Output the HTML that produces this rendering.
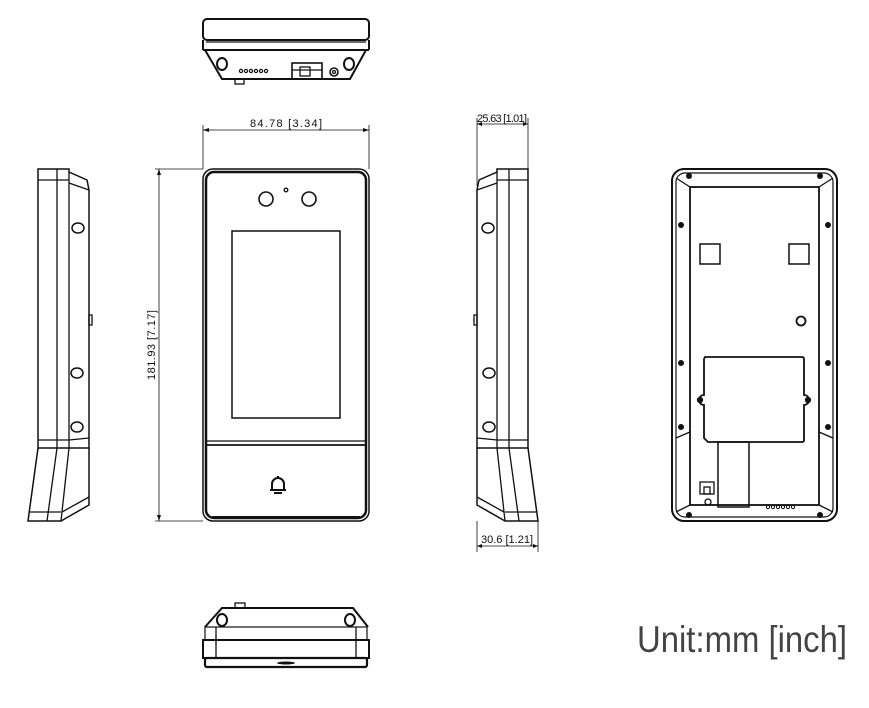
<!DOCTYPE html>
<html><head><meta charset="utf-8"><style>html,body{margin:0;padding:0;background:#fff}svg{display:block}</style></head><body>
<svg width="869" height="708" viewBox="0 0 869 708" xmlns="http://www.w3.org/2000/svg" fill="none" stroke="#111" stroke-width="1.3">
<!-- TOP VIEW -->
<g>
<rect x="203" y="19" width="166" height="21" rx="4" stroke-width="2"/>
<line x1="203" y1="40" x2="203" y2="50" stroke-width="2"/><line x1="369" y1="40" x2="369" y2="50" stroke-width="2"/>
<line x1="203" y1="50" x2="369" y2="50" stroke-width="2"/>
<line x1="206" y1="42" x2="366" y2="42"/>
<path d="M205 50 L222 79 L350 79 L366 50" stroke-width="2"/>
<ellipse cx="222" cy="64" rx="5" ry="6" stroke-width="2"/><ellipse cx="349" cy="64" rx="5" ry="6" stroke-width="2"/>
<g stroke-width="1.2"><circle cx="241" cy="71" r="1.6"/><circle cx="246" cy="71" r="1.6"/><circle cx="251" cy="71" r="1.6"/><circle cx="256" cy="71" r="1.6"/><circle cx="261" cy="71" r="1.6"/><circle cx="266" cy="71" r="1.6"/></g>
<rect x="292" y="63" width="30" height="16" stroke-width="1.6"/><rect x="300" y="67" width="10" height="9"/><line x1="292" y1="70" x2="322" y2="70"/>
<circle cx="334" cy="72" r="4" stroke-width="1.6"/><circle cx="334" cy="72" r="1.5"/>
<rect x="235" y="79" width="9" height="5"/>
</g>
<!-- FRONT VIEW -->
<g>
<line x1="203" y1="125" x2="203" y2="169" stroke-width="0.8"/><line x1="369" y1="125" x2="369" y2="169" stroke-width="0.8"/>
<line x1="203" y1="130" x2="369" y2="130" stroke-width="0.8"/>
<path d="M203 130 l6 -2 v4 z M369 130 l-6 -2 v4 z" fill="#111" stroke="none"/>
<text x="286" y="127" font-family="Liberation Sans Narrow, Liberation Sans, sans-serif" font-size="11" fill="#111" stroke="none" text-anchor="middle" textLength="72">84.78 [3.34]</text>
<line x1="155" y1="169" x2="203" y2="169" stroke-width="0.8"/><line x1="155" y1="521" x2="203" y2="521" stroke-width="0.8"/>
<line x1="159" y1="169" x2="159" y2="521" stroke-width="0.8"/>
<path d="M159 169 l-2 6 h4 z M159 521 l-2 -6 h4 z" fill="#111" stroke="none"/>
<text transform="translate(155,345) rotate(-90)" font-family="Liberation Sans Narrow, Liberation Sans, sans-serif" font-size="11" fill="#111" stroke="none" text-anchor="middle" textLength="70">181.93 [7.17]</text>
<rect x="203" y="169" width="166" height="352" rx="10" stroke-width="1.5"/>
<rect x="206" y="172" width="160" height="346" rx="8" stroke-width="2.5"/>
<line x1="212" y1="517" x2="360" y2="517" stroke-width="2"/>
<circle cx="266" cy="199" r="7" stroke-width="1.6"/><circle cx="309" cy="199" r="7" stroke-width="1.6"/>
<circle cx="286" cy="190" r="1.8"/>
<rect x="232" y="231" width="108" height="187" stroke-width="1.5"/>
<line x1="206" y1="441" x2="366" y2="441"/><line x1="206" y1="445" x2="366" y2="445" stroke-width="1.8"/>
<path d="M272 490 v-6 a6 6 0 0 1 12 0 v6 M270 490 h16 M274 493 h8" stroke-width="2"/><line x1="278" y1="476" x2="278" y2="478" stroke-width="2"/>
</g>
<!-- LEFT SIDE -->
<g>
<path d="M38 169 L69 169 L69 172 L87 180 L89 190 L89 448 L38 448 Z" stroke-width="1.5"/>
<line x1="57" y1="169" x2="57" y2="448"/><line x1="69" y1="172" x2="69" y2="448"/>
<line x1="38" y1="180" x2="69" y2="180"/><line x1="69" y1="183" x2="89" y2="190"/>
<line x1="38" y1="440" x2="69" y2="440"/><line x1="69" y1="440" x2="89" y2="438"/>
<ellipse cx="78" cy="228" rx="6" ry="5" stroke-width="1.5"/>
<ellipse cx="77" cy="373" rx="6" ry="5" stroke-width="1.5"/>
<ellipse cx="77" cy="427" rx="6" ry="5" stroke-width="1.5"/>
<rect x="89" y="315" width="3" height="10"/>
<path d="M38 448 L28 521 L61 521 L89 505 L89 448" stroke-width="1.5"/>
<line x1="57" y1="448" x2="47" y2="521"/><line x1="69" y1="448" x2="61" y2="521"/>
<line x1="30" y1="512" x2="61" y2="512"/><line x1="62" y1="512" x2="89" y2="497"/>
</g>
<!-- RIGHT SIDE (mirrored) -->
<g transform="translate(566,0) scale(-1,1)">
<path d="M38 169 L69 169 L69 172 L87 180 L89 190 L89 448 L38 448 Z" stroke-width="1.5"/>
<line x1="57" y1="169" x2="57" y2="448"/><line x1="69" y1="172" x2="69" y2="448"/>
<line x1="38" y1="180" x2="69" y2="180"/><line x1="69" y1="183" x2="89" y2="190"/>
<line x1="38" y1="440" x2="69" y2="440"/><line x1="69" y1="440" x2="89" y2="438"/>
<ellipse cx="78" cy="228" rx="6" ry="5" stroke-width="1.5"/>
<ellipse cx="77" cy="373" rx="6" ry="5" stroke-width="1.5"/>
<ellipse cx="77" cy="427" rx="6" ry="5" stroke-width="1.5"/>
<rect x="89" y="315" width="3" height="10"/>
<path d="M38 448 L28 521 L61 521 L89 505 L89 448" stroke-width="1.5"/>
<line x1="57" y1="448" x2="47" y2="521"/><line x1="69" y1="448" x2="61" y2="521"/>
<line x1="30" y1="512" x2="61" y2="512"/><line x1="62" y1="512" x2="89" y2="497"/>
</g>
<g stroke-width="0.8">
<line x1="477" y1="118" x2="477" y2="186"/><line x1="528" y1="118" x2="528" y2="169"/>
<line x1="477" y1="124" x2="528" y2="124"/>
<line x1="477" y1="521" x2="477" y2="552"/><line x1="538" y1="521" x2="538" y2="552"/>
<line x1="477" y1="546" x2="538" y2="546"/>
</g>
<path d="M477 124 l5 -2 v4 z M528 124 l-5 -2 v4 z M477 546 l5 -2 v4 z M538 546 l-5 -2 v4 z" fill="#111" stroke="none"/>
<text x="502" y="122" font-family="Liberation Sans Narrow, Liberation Sans, sans-serif" font-size="11" fill="#111" stroke="none" text-anchor="middle" textLength="50">25.63 [1.01]</text>
<text x="507" y="543" font-family="Liberation Sans Narrow, Liberation Sans, sans-serif" font-size="11" fill="#111" stroke="none" text-anchor="middle" textLength="52">30.6 [1.21]</text>
<!-- BACK VIEW -->
<g>
<rect x="672" y="169" width="165" height="352" rx="12" stroke-width="2"/>
<rect x="676" y="173" width="157" height="344" rx="9" stroke-width="1.2"/>
<rect x="690" y="187" width="129" height="318" stroke-width="1.8"/>
<line x1="676" y1="178" x2="690" y2="187"/><line x1="833" y1="178" x2="819" y2="187"/>
<line x1="676" y1="512" x2="690" y2="505"/><line x1="833" y1="512" x2="819" y2="505"/>
<line x1="676" y1="438" x2="690" y2="432"/><line x1="833" y1="438" x2="819" y2="432"/>
<rect x="700" y="244" width="20" height="20" stroke-width="1.5"/>
<rect x="789" y="244" width="20" height="20" stroke-width="1.5"/>
<circle cx="801" cy="321" r="4.5" stroke-width="1.8"/>
<path d="M705 357 H802 Q804 357 804 359 V395 A5 5 0 0 1 804 405 V440 Q804 442 802 442 H708 L704 438 V405 A5 5 0 0 1 704 395 V359 Z" stroke-width="1.8"/>
<circle cx="700" cy="400" r="2.5" fill="#111"/><circle cx="808" cy="400" r="2.5" fill="#111"/>
<rect x="718" y="442" width="31" height="65" stroke-width="1.5"/>
<rect x="700" y="482" width="14" height="12"/><rect x="704" y="487" width="6" height="7"/>
<circle cx="708" cy="502" r="3"/>
<g stroke-width="1"><circle cx="768" cy="507" r="1.6"/><circle cx="773" cy="507" r="1.6"/><circle cx="778" cy="507" r="1.6"/><circle cx="783" cy="507" r="1.6"/><circle cx="788" cy="507" r="1.6"/><circle cx="793" cy="507" r="1.6"/></g>
<g fill="#111" stroke="none">
<circle cx="689" cy="176" r="3"/><circle cx="820" cy="176" r="3"/>
<circle cx="681" cy="225" r="3"/><circle cx="828" cy="225" r="3"/>
<circle cx="681" cy="363" r="3"/><circle cx="828" cy="363" r="3"/>
<circle cx="681" cy="427" r="3"/><circle cx="828" cy="427" r="3"/>
<circle cx="689" cy="515" r="3"/><circle cx="820" cy="515" r="3"/>
</g>
</g>
<!-- BOTTOM VIEW -->
<g>
<rect x="235" y="603" width="10" height="5"/>
<path d="M205 627 L222 608 L353 608 L368 627" stroke-width="2"/>
<ellipse cx="222" cy="620" rx="5" ry="6" stroke-width="2"/><ellipse cx="350" cy="620" rx="5" ry="6" stroke-width="2"/>
<rect x="205" y="627" width="162" height="13" stroke-width="1.2"/>
<line x1="216" y1="627" x2="216" y2="658"/><line x1="356" y1="627" x2="356" y2="658"/>
<rect x="203" y="640" width="166" height="18" stroke-width="2"/>
<rect x="205" y="658" width="162" height="9" rx="2" stroke-width="2.2"/>
<ellipse cx="286" cy="663" rx="9" ry="1.5" fill="#111" stroke="none"/>
</g>
<text x="637" y="652" font-family="Liberation Sans Narrow, Liberation Sans, sans-serif" font-size="37" font-weight="200" fill="#444" stroke="none" textLength="210" lengthAdjust="spacingAndGlyphs">Unit:mm [inch]</text>
</svg>
</body></html>
